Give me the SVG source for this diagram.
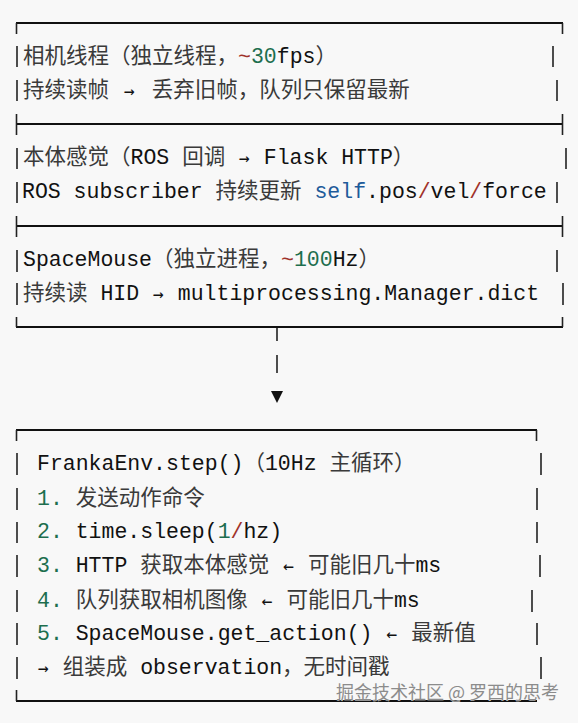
<svg xmlns="http://www.w3.org/2000/svg" width="578" height="723" viewBox="0 0 578 723">
<style>
.t{font-family:"Liberation Mono","Noto Sans CJK SC",monospace;font-size:21.5px;fill:#111;white-space:pre}
.c{font-family:"Noto Sans CJK SC","Liberation Mono",sans-serif;fill:#3a3a3a}
.a{font-family:"DejaVu Sans Mono","Liberation Mono",monospace;font-size:18px}
.g{fill:#1d6e4e}
.r{fill:#a0322a}
.b{fill:#1e5b9a}
.h{stroke:#111;stroke-width:2;fill:none}
.v{stroke:#222;stroke-width:1.6;fill:none}
.wm{font-family:"Noto Sans CJK SC",sans-serif;font-size:18px;fill:#8c8c8c;stroke:#f8f8f8;stroke-width:0.6;paint-order:stroke}
</style>
<rect width="578" height="723" fill="#f8f8f8"/>

<g id="box-threads">
  <path class="h" d="M16 23H563M16 124H563M16 226H563M16 327H563"/>
  <path class="v" d="M16.5 23V34M562.5 23V34M16.5 114V135M562.5 114V135M16.5 216V237M562.5 216V237M16.5 317V327M562.5 317V327"/>
</g>

<g id="sec-camera">
  <path class="v" d="M17 46V67M553 46V67M17 80V101M557 80V101"/>
  <text class="t" x="23" y="63"><tspan class="c">相机线程（独立线程，</tspan><tspan class="r">~</tspan><tspan class="g">30</tspan>fps<tspan class="c">）</tspan></text>
  <text class="t" x="23" y="97"><tspan class="c">持续读帧</tspan> <tspan class="a" dx="2">→</tspan> <tspan class="c" dx="4">丢弃旧帧，队列只保留最新</tspan></text>
</g>

<g id="sec-proprio">
  <path class="v" d="M17 148V169M566 148V169M17 182V203M557 182V203"/>
  <text class="t" x="23" y="164"><tspan class="c">本体感觉（</tspan>ROS <tspan class="c">回调</tspan> <tspan class="a" dx="1">→</tspan> <tspan dx="1">Flask HTTP</tspan><tspan class="c">）</tspan></text>
  <text class="t" x="22" y="198">ROS subscriber <tspan class="c">持续更新</tspan> <tspan class="b">self</tspan>.pos<tspan class="r">/</tspan>vel<tspan class="r">/</tspan>force</text>
</g>

<g id="sec-spacemouse">
  <path class="v" d="M17 250V272M557 250V272M17 283V305M563 283V305"/>
  <text class="t" x="23" y="266">SpaceMouse<tspan class="c">（独立进程，</tspan><tspan class="r">~</tspan><tspan class="g">100</tspan>Hz<tspan class="c">）</tspan></text>
  <text class="t" x="23" y="300"><tspan class="c">持续读</tspan> HID <tspan class="a" dx="1">→</tspan> <tspan dx="1">multiprocessing.Manager.dict</tspan></text>
</g>

<g id="connectors">
  <path class="v" d="M277 328V341M277 355V373"/>
  <polygon points="271,391 283,391 277,403" fill="#111"/>
</g>

<g id="node-step">
  <path class="h" d="M16 430H537M16 701H537"/>
  <path class="v" d="M16.5 430V441M536.5 430V441M16.5 690V701"/>
  <path class="v" d="M17 453V475M541 453V475M17 488V510M537 488V510M17 522V543M537 522V543M17 555V577M540 555V577M17 590V612M532 590V612M17 623V645M537 623V645M17 657V679M541 657V679"/>
  <text class="t" x="37" y="470">FrankaEnv.step()<tspan class="c">（</tspan>10Hz <tspan class="c">主循环）</tspan></text>
  <text class="t" x="37" y="505"><tspan class="g">1.</tspan> <tspan class="c">发送动作命令</tspan></text>
  <text class="t" x="37" y="538"><tspan class="g">2.</tspan> time.sleep(<tspan class="g">1</tspan><tspan class="r">/</tspan>hz)</text>
  <text class="t" x="37" y="572"><tspan class="g">3.</tspan> HTTP <tspan class="c">获取本体感觉</tspan> <tspan class="a" dx="1">←</tspan> <tspan class="c" dx="1">可能旧几十</tspan>ms</text>
  <text class="t" x="37" y="607"><tspan class="g">4.</tspan> <tspan class="c">队列获取相机图像</tspan> <tspan class="a" dx="1">←</tspan> <tspan class="c" dx="1">可能旧几十</tspan>ms</text>
  <text class="t" x="37" y="640"><tspan class="g">5.</tspan> SpaceMouse.get_action() <tspan class="a" dx="1">←</tspan> <tspan class="c" dx="1">最新值</tspan></text>
  <text class="t" x="37" y="674"><tspan class="a" dx="1">→</tspan> <tspan class="c" dx="1">组装成</tspan> observation<tspan class="c">，无时间戳</tspan></text>
</g>

<text class="wm" x="336" y="699">掘金技术社区 @ 罗西的思考</text>
</svg>
